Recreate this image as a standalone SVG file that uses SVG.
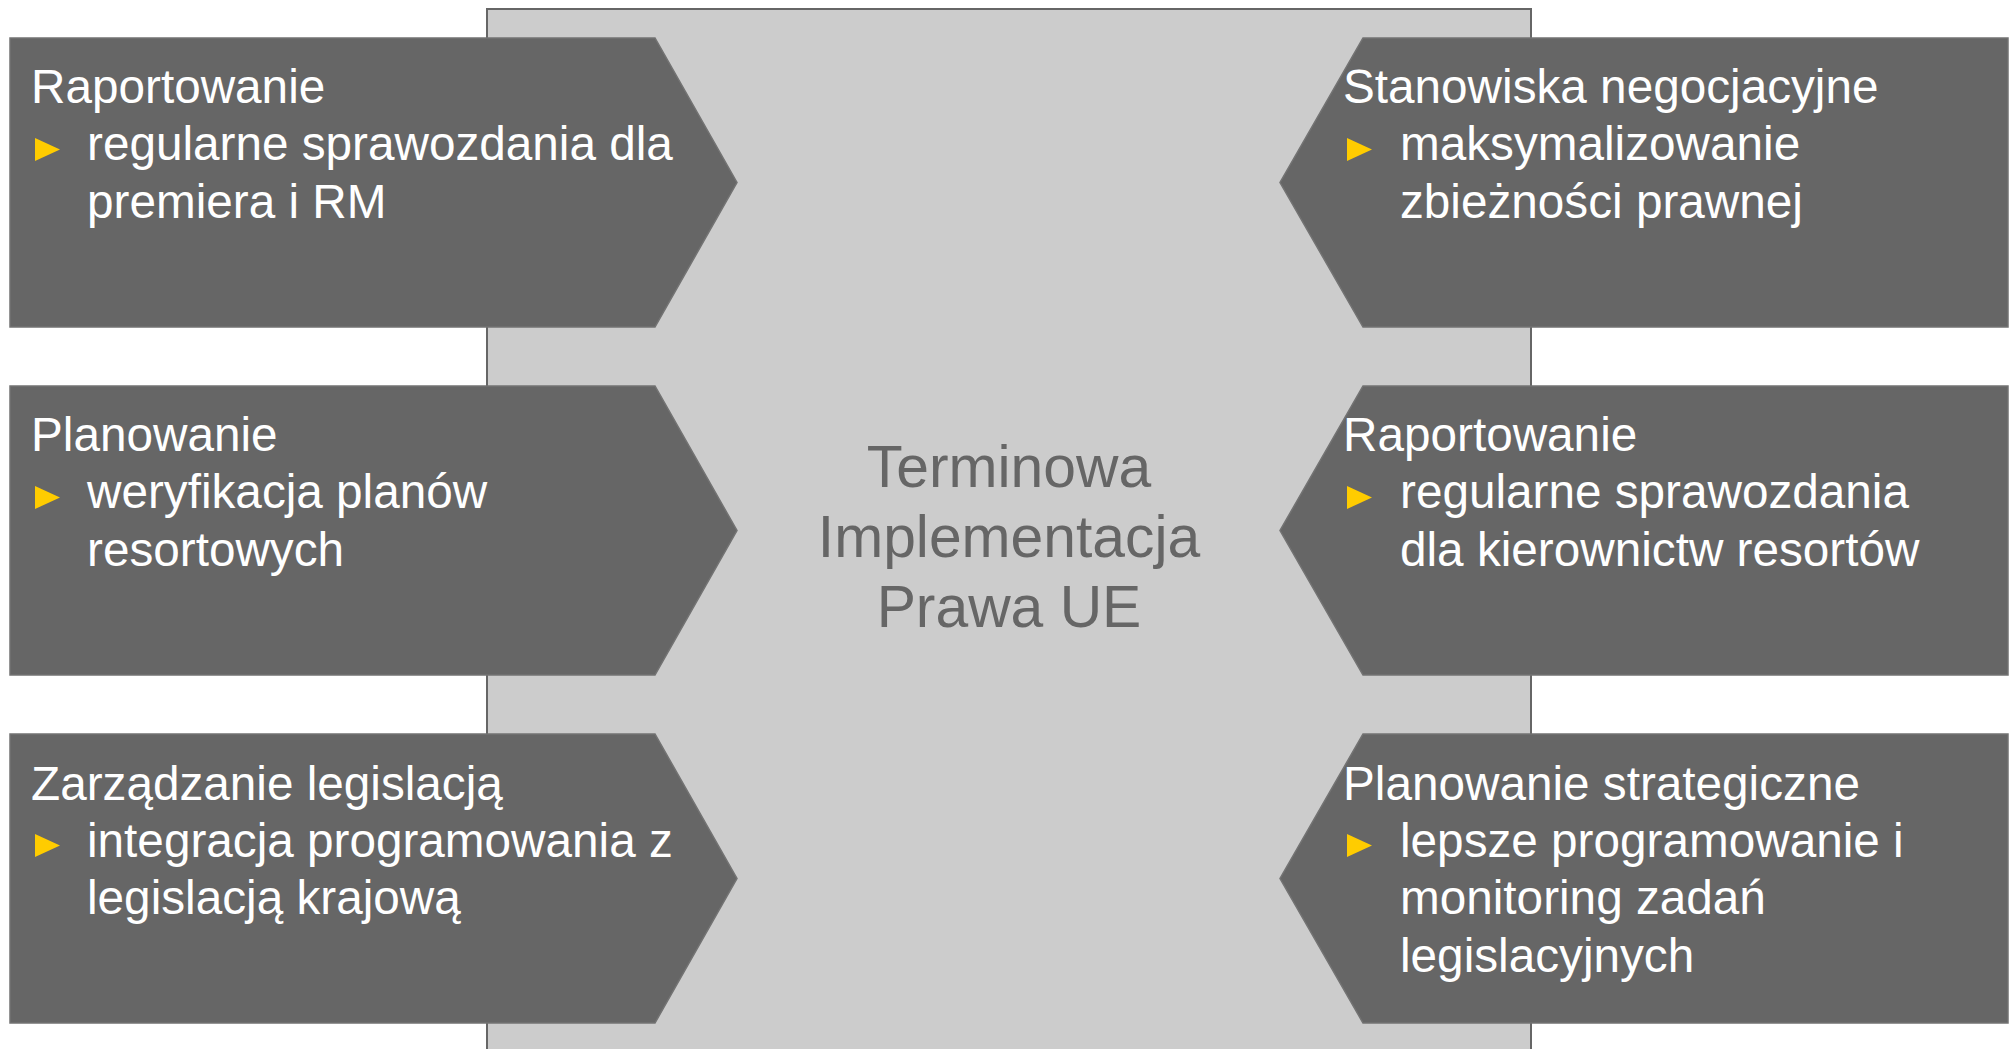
<svg xmlns="http://www.w3.org/2000/svg" width="2011" height="1049" viewBox="0 0 2011 1049">
<style>
.box{fill:#666666;stroke:#737373;stroke-width:1.5}
.center{fill:#CCCCCC;stroke:#666666;stroke-width:2}
.t{font-family:"Liberation Sans",Arial,sans-serif;font-size:47.7px;fill:#FFFFFF}
.c{font-family:"Liberation Sans",Arial,sans-serif;font-size:58.8px;fill:#666666;text-anchor:middle}
.bul{fill:#FFCC00}
</style>
<rect width="2011" height="1049" fill="#FFFFFF"/>
<g id="center">
<rect class="center" x="487" y="9" width="1044" height="1060"/>
<text class="c" x="1009" y="487">Terminowa</text>
<text class="c" x="1009" y="557">Implementacja</text>
<text class="c" x="1009" y="627">Prawa UE</text>
</g>
<g id="connectors"></g>
<g id="left1">
<polygon class="box" points="10,38 655,38 737,182.5 655,327 10,327"/>
<text class="t" x="31" y="103">Raportowanie</text>
<polygon class="bul" points="35,138 60,149.5 35,161"/>
<text class="t" x="87" y="160">regularne sprawozdania dla</text>
<text class="t" x="87" y="218">premiera i RM</text>
</g>
<g id="left2">
<polygon class="box" points="10,386 655,386 737,530.5 655,675 10,675"/>
<text class="t" x="31" y="451">Planowanie</text>
<polygon class="bul" points="35,486 60,497.5 35,509"/>
<text class="t" x="87" y="508">weryfikacja planów</text>
<text class="t" x="87" y="566">resortowych</text>
</g>
<g id="left3">
<polygon class="box" points="10,734 655,734 737,878.5 655,1023 10,1023"/>
<text class="t" x="31" y="800">Zarządzanie legislacją</text>
<polygon class="bul" points="35,834 60,845.5 35,857"/>
<text class="t" x="87" y="857">integracja programowania z</text>
<text class="t" x="87" y="914">legislacją krajową</text>
</g>
<g id="right1">
<polygon class="box" points="2008,38 1363,38 1280,182.5 1363,327 2008,327"/>
<text class="t" x="1343" y="103">Stanowiska negocjacyjne</text>
<polygon class="bul" points="1347,138 1372,149.5 1347,161"/>
<text class="t" x="1400" y="160">maksymalizowanie</text>
<text class="t" x="1400" y="218">zbieżności prawnej</text>
</g>
<g id="right2">
<polygon class="box" points="2008,386 1363,386 1280,530.5 1363,675 2008,675"/>
<text class="t" x="1343" y="451">Raportowanie</text>
<polygon class="bul" points="1347,486 1372,497.5 1347,509"/>
<text class="t" x="1400" y="508">regularne sprawozdania</text>
<text class="t" x="1400" y="566">dla kierownictw resortów</text>
</g>
<g id="right3">
<polygon class="box" points="2008,734 1363,734 1280,878.5 1363,1023 2008,1023"/>
<text class="t" x="1343" y="800">Planowanie strategiczne</text>
<polygon class="bul" points="1347,834 1372,845.5 1347,857"/>
<text class="t" x="1400" y="857">lepsze programowanie i</text>
<text class="t" x="1400" y="914">monitoring zadań</text>
<text class="t" x="1400" y="972">legislacyjnych</text>
</g>
</svg>
